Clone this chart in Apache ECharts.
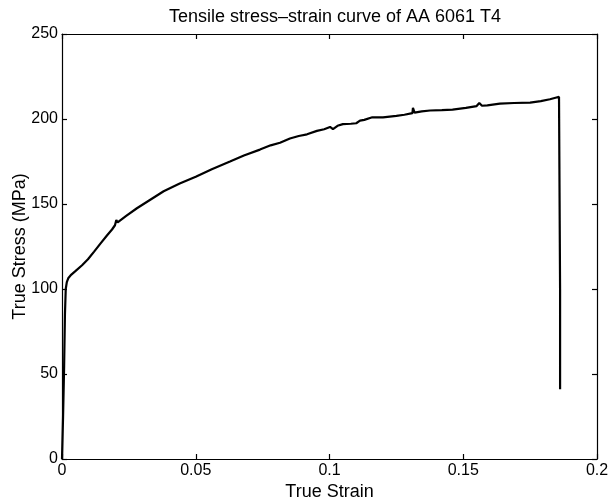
<!DOCTYPE html>
<html>
<head>
<meta charset="utf-8">
<script src="https://cdn.jsdelivr.net/npm/echarts@6/dist/echarts.min.js"></script>
<style>html,body{margin:0;padding:0;background:#fff;}#c{width:610px;height:501px;}</style>
</head>
<body>
<div id="c"></div>
<script>
const titleText = 'Tensile stress\u2013strain curve of AA 6061 T4';
const xName = 'True Strain';
const yName = 'True Stress (MPa)';
const strain = [0, 0.0004, 0.0008, 0.0011, 0.0014, 0.0018, 0.0024, 0.0035, 0.005, 0.0075, 0.0097, 0.012, 0.0145, 0.0168, 0.0187, 0.0198, 0.0203, 0.0208, 0.0215, 0.024, 0.028, 0.033, 0.038, 0.044, 0.05, 0.056, 0.0628, 0.068, 0.074, 0.078, 0.0815, 0.0852, 0.0885, 0.0916, 0.0953, 0.098, 0.1002, 0.1013, 0.103, 0.105, 0.108, 0.110, 0.1114, 0.113, 0.116, 0.12, 0.125, 0.128, 0.131, 0.1312, 0.1318, 0.1345, 0.1376, 0.142, 0.146, 0.151, 0.155, 0.156, 0.157, 0.159, 0.1637, 0.169, 0.175, 0.179, 0.1824, 0.1845, 0.1858, 0.1865, 0.1862, 0.1862];
const stress = [0, 25, 55, 85, 100, 104, 106.5, 108.5, 110.5, 114, 117.5, 122, 127, 131.5, 135, 137.5, 140.5, 139.2, 140.3, 143, 147.5, 152.5, 157.5, 162, 166, 170.5, 175, 178.5, 182, 184.5, 186, 188.5, 190, 191, 193, 194, 195.3, 194, 196, 197, 197.2, 197.5, 199, 199.5, 201, 201, 201.8, 202.5, 203.5, 206.5, 203.8, 204.5, 205, 205.2, 205.5, 206.5, 207.6, 209.4, 207.8, 208, 209, 209.4, 209.6, 210.5, 211.6, 212.5, 213, 214, 100, 41];
const xTicks = [0, 0.05, 0.1, 0.15, 0.2];
const yTicks = [0, 50, 100, 150, 200, 250];

const data = strain.map((s, i) => [s, stress[i]]);
const font = 'Liberation Sans, Arial, Helvetica, sans-serif';
const axisLine = {show: true, onZero: false, lineStyle: {color: '#000', width: 1.2}};
const tick = {show: true, inside: true, length: 5, lineStyle: {color: '#000', width: 1.2}};
const chart = echarts.init(document.getElementById('c'), null, {renderer: 'canvas'});
chart.setOption({
  backgroundColor: '#fff',
  animation: false,
  title: {
    text: titleText, left: 330, top: 3, textAlign: 'center',
    textStyle: {fontFamily: font, fontSize: 18, fontWeight: 'normal', color: '#000'}
  },
  grid: {left: 62, right: 13, top: 34, bottom: 42, containLabel: false, outerBoundsMode: 'none'},
  xAxis: [{
    type: 'value', min: xTicks[0], max: xTicks[xTicks.length - 1], interval: 0.05,
    name: xName, nameLocation: 'middle', nameGap: 24, nameMoveOverlap: false,
    nameTextStyle: {fontFamily: font, fontSize: 18, color: '#000'},
    axisLine: axisLine, axisTick: tick, splitLine: {show: false},
    axisLabel: {fontFamily: font, fontSize: 16, color: '#000', margin: 4}
  }, {
    type: 'value', position: 'top', min: 0, max: 0.2, interval: 0.05,
    axisLine: axisLine, axisTick: tick, splitLine: {show: false}, axisLabel: {show: false}
  }],
  yAxis: [{
    type: 'value', min: yTicks[0], max: yTicks[yTicks.length - 1], interval: 50,
    name: yName, nameLocation: 'middle', nameGap: 33, nameMoveOverlap: false,
    nameTextStyle: {fontFamily: font, fontSize: 18, color: '#000'},
    axisLine: axisLine, axisTick: tick, splitLine: {show: false},
    axisLabel: {fontFamily: font, fontSize: 16, color: '#000', margin: 4}
  }, {
    type: 'value', position: 'right', min: 0, max: 250, interval: 50,
    axisLine: axisLine, axisTick: tick, splitLine: {show: false}, axisLabel: {show: false}
  }],
  series: [{
    type: 'line', data: data, showSymbol: false, symbol: 'none', smooth: false,
    lineStyle: {color: '#000', width: 2.2}, xAxisIndex: 0, yAxisIndex: 0
  }]
});
</script>
</body>
</html>
